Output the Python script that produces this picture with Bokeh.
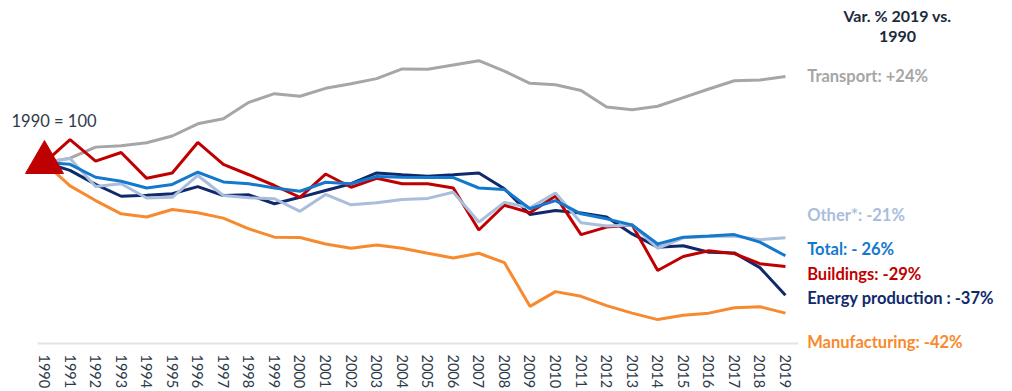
from bokeh.plotting import figure
from bokeh.models import Range1d, FixedTicker, Label
from bokeh.embed import file_html
from bokeh.resources import INLINE

years = list(range(1990, 2020))

transport = [100, 101.2, 104.3, 104.7, 105.5, 107.4, 110.8, 112.2, 116.8, 119.2,
             118.5, 120.7, 122.0, 123.4, 126.1, 126.0, 127.2, 128.4, 125.5, 122.1,
             121.7, 120.1, 115.5, 114.7, 115.7, 118.1, 120.5, 122.8, 123.0, 124.0]
manufacturing = [100, 93.5, 89.4, 85.7, 84.8, 86.9, 86.0, 84.5, 81.5, 79.2,
                 79.1, 77.3, 76.1, 77.0, 76.1, 74.7, 73.4, 74.7, 72.1, 59.9,
                 64.0, 62.7, 60.1, 58.0, 56.2, 57.4, 58.0, 59.5, 59.8, 58.0]
buildings = [100, 106.4, 100.4, 102.8, 95.6, 97.1, 105.6, 99.5, 96.6, 93.6,
             90.3, 96.8, 93.1, 95.6, 94.1, 94.1, 92.9, 81.2, 88.1, 86.0,
             90.7, 79.9, 82.0, 82.6, 69.9, 73.8, 75.4, 74.6, 71.8, 71.0]
energy = [100, 97.8, 93.9, 90.6, 90.9, 91.3, 93.3, 90.8, 91.0, 88.5,
          90.3, 92.2, 94.1, 97.1, 96.6, 96.2, 96.6, 97.1, 92.7, 85.5,
          86.6, 85.9, 84.8, 80.1, 76.4, 76.8, 75.0, 74.8, 70.7, 63.0]
total = [100, 99.5, 95.9, 94.8, 92.9, 93.9, 97.3, 94.6, 94.1, 92.9,
         92.0, 94.5, 94.1, 96.1, 95.9, 95.8, 95.8, 92.9, 92.5, 87.1,
         89.4, 85.7, 84.3, 82.6, 77.3, 79.2, 79.5, 79.9, 77.8, 74.0]
other = [100, 101.1, 93.3, 94.1, 90.1, 90.3, 96.4, 90.8, 90.2, 89.9,
         86.4, 91.1, 88.2, 88.8, 89.7, 90.0, 91.7, 83.4, 88.9, 87.4,
         91.5, 83.2, 82.3, 82.6, 76.1, 79.0, 79.4, 79.5, 78.5, 79.0]

series_names = ["Transport", "Manufacturing", "Energy production", "Buildings", "Other*", "Total"]
label_texts = ["Transport: +24%", "Manufacturing: -42%", "Energy production : -37%",
               "Buildings: -29%", "Other*: -21%", "Total: - 26%"]
title_lines = ["Var. % 2019 vs.", "1990"]
base_text = "1990 = 100"
base_year = 1990
base_value = 100

# ---- layout / style ----
colors = ["#A6A6A6", "#F78A2E", "#10296B", "#C00000", "#A9BDDD", "#1479CC"]
label_y = [124.0, 49.9, 62.2, 68.8, 85.5, 76.0]
label_x = 2019.85
title_x = 2023.385
title_y = [141.0, 135.15]
base_label_x, base_label_y = 1988.71, 111.7
axis_y = 49.54
FONT = "Lato"

p = figure(width=1004, height=391, output_backend="svg", toolbar_location=None,
           x_range=Range1d(1988.278, 2027.574), y_range=Range1d(36.15, 145.19),
           y_axis_type=None, min_border_left=0, min_border_right=0,
           min_border_top=0, min_border_bottom=0)
p.outline_line_color = None
p.xgrid.visible = False
p.ygrid.visible = False

xa = p.xaxis[0]
xa.fixed_location = axis_y
xa.ticker = FixedTicker(ticks=years)
xa.bounds = (1989.726, 2019.5)
xa.major_label_orientation = "vertical"
xa.major_tick_line_color = None
xa.minor_tick_line_color = None
xa.axis_line_color = "#E3E3E3"
xa.axis_line_width = 2
xa.major_label_text_font = FONT
xa.major_label_text_font_size = "14.5px"
xa.major_label_text_color = "#2E3B4A"
xa.major_label_standoff = 5

data = [transport, manufacturing, energy, buildings, other, total]
for vals, c in zip(data, colors):
    p.line(years, vals, line_color=c, line_width=3)

p.scatter([base_year], [base_value], marker="triangle", size=38,
          fill_color="#C00000", line_color="#C00000")

for t, c, y in zip(label_texts, colors, label_y):
    p.add_layout(Label(x=label_x, y=y, text=t, text_color=c, text_font=FONT,
                       text_font_style="bold", text_font_size="16.5px",
                       text_align="left", text_baseline="middle"))

for t, y in zip(title_lines, title_y):
    p.add_layout(Label(x=title_x, y=y, text=t, text_color="#1B2A3A", text_font=FONT,
                       text_font_style="bold", text_font_size="16px",
                       text_align="center", text_baseline="middle"))

p.add_layout(Label(x=base_label_x, y=base_label_y, text=base_text, text_color="#2E3B4A",
                   text_font=FONT, text_font_size="16.5px",
                   text_align="left", text_baseline="middle"))

open("out.html", "w").write(file_html(p, INLINE))
